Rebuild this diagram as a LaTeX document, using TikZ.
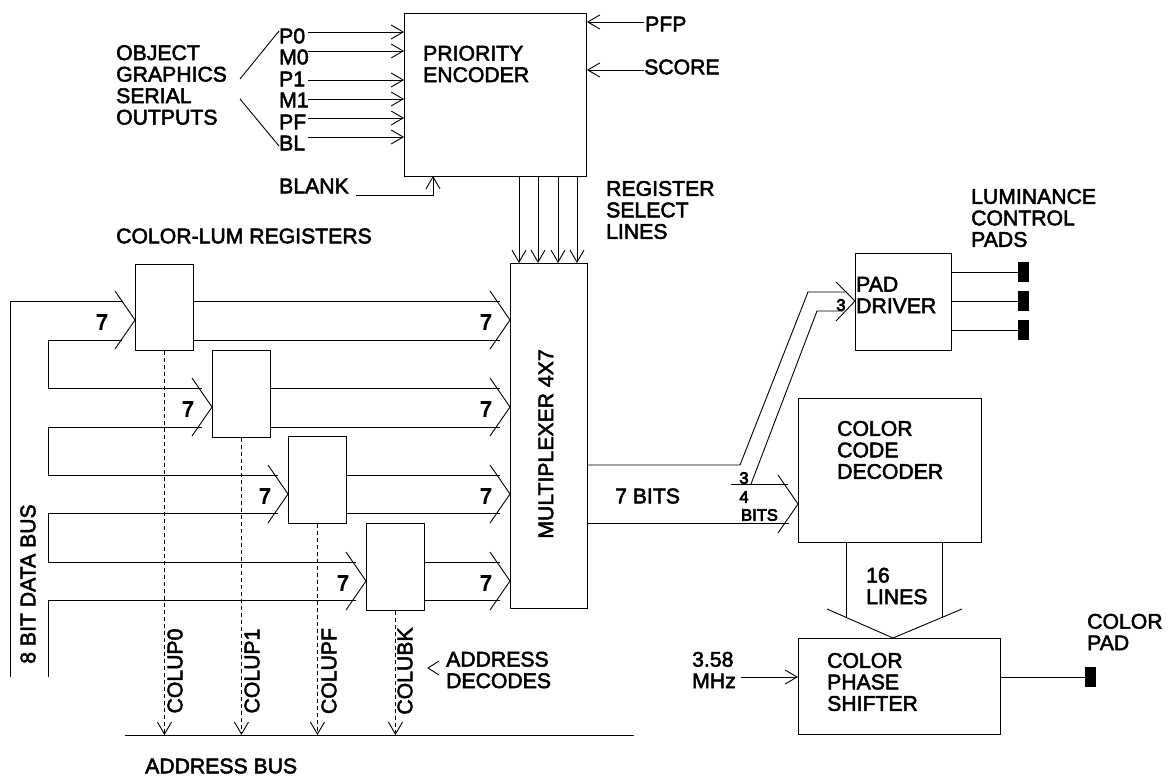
\documentclass[tikz,border=0pt]{standalone}
\usepackage{fontspec}
\usetikzlibrary{arrows.meta,calc}
\newfontfamily\diagfont{Liberation Sans}[FakeBold=2.5]
\newfontfamily\sevenfont{Liberation Sans}[FakeBold=4.5]
\tikzset{
  wire/.style={line width=0.9pt},
  arrowin/.style={wire,-{Straight Barb[length=12pt,width=14pt]}},
  box/.style={draw,wire,fill=white,anchor=north west,inner sep=0pt},
  pad/.style={fill=black,anchor=north west,inner sep=0pt,minimum width=11,minimum height=20},
  lbl/.style={anchor=west,inner sep=0pt,align=left,font=\diagfont\fontsize{21.2}{21.5}\selectfont},
  small/.style={lbl,font=\sevenfont\fontsize{16.5}{18}\selectfont},
  seven/.style={inner sep=0pt,font=\sevenfont\fontsize{21.2}{21.5}\selectfont},
  vert/.style={anchor=center,inner sep=0pt,rotate=90,font=\diagfont\fontsize{21.2}{21.5}\selectfont},
  busbarb/.pic={\draw[wire] (-20,-29) -- (0,0) -- (-20,29);}
}

\begin{document}
\begin{tikzpicture}[x=1pt,y=-1pt]
  \useasboundingbox (0,0) rectangle (1169,779);
  % priority encoder and its inputs
  \node[box,minimum width=182,minimum height=163] (encoder) at (404,13) {};
  \node[lbl] (encoderText) at (423,64) {PRIORITY\\ENCODER};
  \node[lbl] (objText) at (116,85) {OBJECT\\GRAPHICS\\SERIAL\\OUTPUTS};
  \node[lbl] (lblPzero) at (279,36) {P0};
  \node[lbl] (lblMzero) at (279,57) {M0};
  \node[lbl] (lblPone) at (279,79) {P1};
  \node[lbl] (lblMone) at (279,100) {M1};
  \node[lbl] (lblPF) at (279,122) {PF};
  \node[lbl] (lblBL) at (279,143) {BL};
  \coordinate (braceTop) at (240,79);
  \coordinate (braceBot) at (240,99);
  \draw[wire] (braceTop) -- ($(lblPzero.west)+(0,-5)$);
  \draw[wire] (braceBot) -- ($(lblBL.west)+(0,3)$);
  \draw[arrowin] (308,32) -- (encoder.west |- 0,32);
  \draw[arrowin] (308,51) -- (encoder.west |- 0,51);
  \draw[arrowin] (308,80) -- (encoder.west |- 0,80);
  \draw[arrowin] (308,99) -- (encoder.west |- 0,99);
  \draw[arrowin] (308,118) -- (encoder.west |- 0,118);
  \draw[arrowin] (308,137) -- (encoder.west |- 0,137);
  \node[lbl] (lblBlank) at (279,186) {BLANK};
  \coordinate (blankTail) at (356,195);
  \draw[arrowin] (blankTail) -| (433,176);
  \node[lbl] (lblPFP) at (645,24) {PFP};
  \node[lbl] (lblScore) at (644,67) {SCORE};
  \draw[arrowin] (644,22) -- (encoder.east |- 0,22);
  \draw[arrowin] (644,70) -- (encoder.east |- 0,70);
  % multiplexer
  \node[box,minimum width=77,minimum height=345] (mux) at (510,263) {};
  \node[vert] (muxText) at (546,444) {MULTIPLEXER 4X7};
  \draw[arrowin] (519,176) -- (519,263);
  \draw[arrowin] (538,176) -- (538,263);
  \draw[arrowin] (558,176) -- (558,263);
  \draw[arrowin] (577,176) -- (577,263);
  \node[lbl] (lblSelect) at (606,210) {REGISTER\\SELECT\\LINES};
  % color-lum registers
  \node[lbl] (lblRegs) at (116,236) {COLOR-LUM REGISTERS};
  \node[box,minimum width=58,minimum height=86] (regA) at (135,264) {};
  \node[box,minimum width=58,minimum height=87] (regB) at (212,350) {};
  \node[box,minimum width=58,minimum height=87] (regC) at (288,436) {};
  \node[box,minimum width=58,minimum height=87] (regD) at (366,523) {};
  \pic at (135,320) {busbarb};
  \pic at (212,407) {busbarb};
  \pic at (288,494) {busbarb};
  \pic at (366,581) {busbarb};
  \pic at (510,320) {busbarb};
  \pic at (510,407) {busbarb};
  \pic at (510,494) {busbarb};
  \pic at (510,581) {busbarb};
  % bus in
  \coordinate (dataEnd) at (10,677);
  \coordinate (loopEnd) at (48,677);
  \draw[wire] (dataEnd) -- (10,301) -- (123,301);
  \draw[wire] (122,340) -- (48,340) -- (48,388) -- (202,388);
  \draw[wire] (202,427) -- (48,427) -- (48,475) -- (278,475);
  \draw[wire] (278,513) -- (48,513) -- (48,562) -- (356,562);
  \draw[wire] (356,600) -- (48,600) -- (loopEnd);
  % bus out
  \draw[wire] (regA.east |- 0,301) -- (500,301);
  \draw[wire] (regA.east |- 0,340) -- (500,340);
  \draw[wire] (regB.east |- 0,388) -- (500,388);
  \draw[wire] (regB.east |- 0,427) -- (500,427);
  \draw[wire] (regC.east |- 0,475) -- (500,475);
  \draw[wire] (regC.east |- 0,513) -- (500,513);
  \draw[wire] (regD.east |- 0,562) -- (500,562);
  \draw[wire] (regD.east |- 0,600) -- (500,600);
  \node[seven] (sevenA) at (102,322) {7};
  \node[seven] (sevenB) at (188,409) {7};
  \node[seven] (sevenC) at (265,496) {7};
  \node[seven] (sevenD) at (343,583) {7};
  \node[seven] (sevenE) at (486,322) {7};
  \node[seven] (sevenF) at (486,409) {7};
  \node[seven] (sevenG) at (486,496) {7};
  \node[seven] (sevenH) at (486,583) {7};
  \node[vert] (lblDataBus) at (28,584) {8 BIT DATA BUS};
  % address bus
  \coordinate (busLeft) at (125,735);
  \coordinate (busRight) at (634,735);
  \draw[wire] (busLeft) -- (busRight);
  \draw[arrowin,dash pattern=on 4pt off 3pt] (regA.south) -- (regA.south |- busLeft);
  \draw[arrowin,dash pattern=on 4pt off 3pt] (regB.south) -- (regB.south |- busLeft);
  \draw[arrowin,dash pattern=on 4pt off 3pt] (regC.south) -- (regC.south |- busLeft);
  \draw[arrowin,dash pattern=on 4pt off 3pt] (regD.south) -- (regD.south |- busLeft);
  \node[vert] (lblColupA) at (175,671) {COLUP0};
  \node[vert] (lblColupB) at (252,671) {COLUP1};
  \node[vert] (lblColupF) at (329,671) {COLUPF};
  \node[vert] (lblColubk) at (405,671) {COLUBK};
  \node[lbl] (lblDecodes) at (446,670) {ADDRESS\\DECODES};
  \coordinate (decodeTip) at (428,668);
  \draw[wire] ($(decodeTip)+(11,-7)$) -- (decodeTip) -- ($(decodeTip)+(11,7)$);
  \node[lbl] (lblAddrBus) at (145,766) {ADDRESS BUS};
  % pad driver and color decoder
  \node[box,minimum width=96,minimum height=97] (driver) at (855,253) {};
  \node[lbl] (driverText) at (856,295) {PAD\\DRIVER};
  \node[box,minimum width=183,minimum height=144] (decoder) at (798,398) {};
  \node[lbl] (decoderText) at (837,450) {COLOR\\CODE\\DECODER};
  \draw[wire] (mux.east |- 0,465) -- (740,465) -- (808,292) -- (847,292);
  \draw[wire] (731,484) -- (788,484);
  \draw[wire] (751,484) -- (817,311) -- (843,311);
  \draw[wire] (836,282) -- (driver.west |- 0,301) -- (836,321);
  \draw[wire] (mux.east |- 0,523) -- (789,523);
  \pic at (798,504) {busbarb};
  \node[lbl] (lblSevenBits) at (615,496) {7 BITS};
  \node[small,anchor=center] (lblThreeA) at (744,478) {3};
  \node[small,anchor=center] (lblFour) at (744,497) {4};
  \node[small] (lblBits) at (741,515) {BITS};
  \node[small,anchor=center] (lblThreeB) at (841,305) {3};
  % luminance pads
  \node[lbl] (lblLum) at (971,218) {LUMINANCE\\CONTROL\\PADS};
  \node[pad] (padA) at (1018,262) {};
  \node[pad] (padB) at (1018,291) {};
  \node[pad] (padC) at (1018,320) {};
  \draw[wire] (driver.east |- padA.west) -- (padA.west);
  \draw[wire] (driver.east |- padB.west) -- (padB.west);
  \draw[wire] (driver.east |- padC.west) -- (padC.west);
  % color phase shifter
  \node[box,minimum width=202,minimum height=96] (shifter) at (798,638) {};
  \node[lbl] (shifterText) at (827,682) {COLOR\\PHASE\\SHIFTER};
  \draw[wire] (846,542) -- (846,618);
  \draw[wire] (942,542) -- (942,618);
  \draw[wire] (827,609) -- (893,638) -- (962,609);
  \node[lbl] (lblSixteen) at (866,586) {16\\LINES};
  \node[lbl] (lblClock) at (692,670) {3.58\\MHz};
  \coordinate (clockTail) at (741,677);
  \draw[arrowin] (clockTail) -- (shifter.west |- clockTail);
  \node[pad] (padD) at (1085,667) {};
  \draw[wire] (shifter.east |- padD.west) -- (padD.west);
  \node[lbl] (lblColorPad) at (1087,632) {COLOR\\PAD};
\end{tikzpicture}
\end{document}
